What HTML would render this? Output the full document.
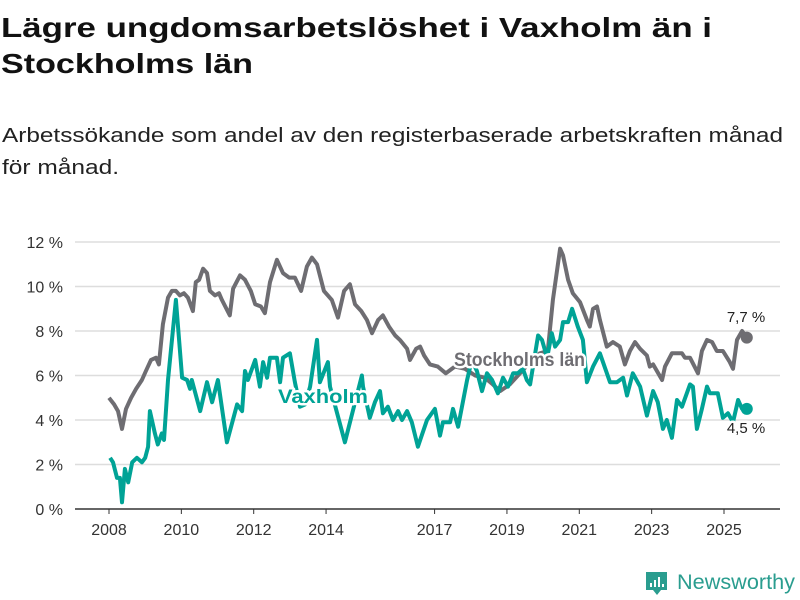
<!DOCTYPE html>
<html><head><meta charset="utf-8"><style>
html,body{margin:0;padding:0;background:#fff;}
svg{display:block;font-family:"Liberation Sans","DejaVu Sans",sans-serif;}
.lbl{paint-order:stroke;stroke:#fff;stroke-width:5px;stroke-linejoin:round;}
</style></head><body>
<svg id="chart" width="800" height="600" viewBox="0 0 800 600">
<text x="1" y="37" font-size="28" font-weight="bold" fill="#111" textLength="711" lengthAdjust="spacingAndGlyphs">Lägre ungdomsarbetslöshet i Vaxholm än i</text>
<text x="1" y="73" font-size="28" font-weight="bold" fill="#111" textLength="252" lengthAdjust="spacingAndGlyphs">Stockholms län</text>
<text x="2" y="142" font-size="20" fill="#222" textLength="781" lengthAdjust="spacingAndGlyphs">Arbetssökande som andel av den registerbaserade arbetskraften månad</text>
<text x="2" y="174" font-size="20" fill="#222" textLength="117" lengthAdjust="spacingAndGlyphs">för månad.</text>
<g id="grid"></g>
<g id="xaxis"></g>
<g id="series"></g>
<g id="labels"></g>
<g>
<path d="M646 572 h21 v18 h-6 l-4 5 l-4 -5 h-7 z" fill="#2a9d8f"/>
<rect x="650" y="583" width="2" height="4" fill="#fff"/><rect x="654" y="580" width="2" height="7" fill="#fff"/><rect x="658" y="577" width="2" height="10" fill="#fff"/><rect x="662" y="584" width="2" height="3" fill="#fff"/>
<text x="677" y="589" font-size="21" fill="#2a9d8f" textLength="118" lengthAdjust="spacingAndGlyphs">Newsworthy</text>
</g>
</svg>
<script>
const yTicks=[0,2,4,6,8,10,12];
const xTickYears=[2008,2010,2012,2014,2017,2019,2021,2023,2025];
const stockholmDates=[2008.00,2008.14,2008.25,2008.36,2008.47,2008.61,2008.75,2008.91,2009.02,2009.16,2009.30,2009.38,2009.49,2009.63,2009.74,2009.85,2009.96,2010.07,2010.18,2010.32,2010.40,2010.49,2010.60,2010.71,2010.79,2010.93,2011.04,2011.12,2011.34,2011.43,2011.62,2011.76,2011.92,2012.04,2012.20,2012.31,2012.45,2012.64,2012.81,2012.98,2013.14,2013.31,2013.47,2013.61,2013.75,2013.94,2014.16,2014.33,2014.50,2014.66,2014.80,2014.97,2015.13,2015.27,2015.44,2015.57,2015.74,2015.91,2016.04,2016.24,2016.32,2016.49,2016.60,2016.71,2016.87,2017.09,2017.31,2017.56,2017.84,2018.12,2018.39,2018.61,2018.81,2019.08,2019.36,2019.64,2019.91,2020.13,2020.27,2020.47,2020.55,2020.69,2020.82,2021.02,2021.21,2021.29,2021.38,2021.49,2021.57,2021.76,2021.93,2022.12,2022.26,2022.40,2022.54,2022.68,2022.87,2022.95,2023.04,2023.29,2023.37,2023.56,2023.84,2023.92,2024.06,2024.28,2024.39,2024.53,2024.67,2024.80,2024.97,2025.16,2025.25,2025.36,2025.50,2025.63];
const stockholmValues=[5.0,4.7,4.4,3.6,4.5,5.0,5.4,5.8,6.2,6.7,6.8,6.5,8.3,9.5,9.8,9.8,9.6,9.7,9.5,8.9,10.2,10.3,10.8,10.6,9.8,9.6,9.7,9.4,8.7,9.9,10.5,10.3,9.8,9.2,9.1,8.8,10.2,11.2,10.6,10.4,10.4,9.8,10.9,11.3,11.0,9.8,9.4,8.6,9.8,10.1,9.2,8.9,8.5,7.9,8.5,8.7,8.2,7.8,7.6,7.2,6.7,7.2,7.3,6.9,6.5,6.4,6.1,6.4,6.3,6.0,5.9,5.6,5.3,5.6,6.1,6.6,7.0,7.1,9.4,11.7,11.4,10.3,9.7,9.3,8.5,8.2,9.0,9.1,8.5,7.3,7.5,7.3,6.5,7.1,7.5,7.2,6.9,6.4,6.5,5.8,6.4,7.0,7.0,6.8,6.8,6.1,7.1,7.6,7.5,7.1,7.1,6.6,6.3,7.6,8.0,7.7];
const vaxholmDates=[2008.03,2008.11,2008.22,2008.30,2008.36,2008.44,2008.53,2008.64,2008.77,2008.91,2009.00,2009.08,2009.13,2009.27,2009.35,2009.46,2009.52,2009.63,2009.85,2010.02,2010.16,2010.24,2010.29,2010.52,2010.71,2010.85,2011.01,2011.26,2011.54,2011.68,2011.76,2011.84,2012.04,2012.17,2012.26,2012.37,2012.45,2012.64,2012.73,2012.81,2013.00,2013.14,2013.28,2013.42,2013.56,2013.75,2013.83,2014.05,2014.11,2014.52,2014.74,2014.99,2015.02,2015.21,2015.35,2015.49,2015.57,2015.71,2015.85,2015.99,2016.10,2016.24,2016.37,2016.54,2016.79,2017.01,2017.15,2017.23,2017.43,2017.51,2017.65,2017.90,2018.03,2018.17,2018.31,2018.45,2018.59,2018.75,2018.89,2019.03,2019.17,2019.30,2019.44,2019.55,2019.64,2019.86,2019.97,2020.11,2020.24,2020.33,2020.47,2020.55,2020.69,2020.80,2020.96,2021.10,2021.21,2021.38,2021.57,2021.85,2022.04,2022.21,2022.32,2022.48,2022.68,2022.87,2023.04,2023.17,2023.31,2023.42,2023.56,2023.70,2023.84,2024.06,2024.14,2024.25,2024.39,2024.53,2024.61,2024.75,2024.83,2024.97,2025.11,2025.25,2025.39,2025.50,2025.63];
const vaxholmValues=[2.3,2.1,1.4,1.4,0.3,1.8,1.2,2.1,2.3,2.1,2.3,2.8,4.4,3.4,2.9,3.4,3.1,5.8,9.4,5.9,5.8,5.4,5.8,4.4,5.7,4.8,5.8,3.0,4.7,4.4,6.2,5.8,6.7,5.5,6.6,5.9,6.8,6.8,5.7,6.8,7.0,5.7,4.6,4.7,5.5,7.6,5.7,6.6,5.5,3.0,4.4,6.0,5.5,4.1,4.8,5.3,4.3,4.6,4.0,4.4,4.0,4.4,3.9,2.8,4.0,4.5,3.3,3.9,3.9,4.5,3.7,5.8,6.7,6.2,5.3,6.1,5.8,5.2,5.9,5.5,6.1,6.1,6.3,5.8,5.6,7.8,7.6,6.8,7.9,7.3,7.6,8.4,8.4,9.0,8.2,7.6,5.7,6.4,7.0,5.7,5.7,5.9,5.1,6.1,5.5,4.2,5.3,4.8,3.6,4.0,3.2,4.9,4.6,5.6,5.5,3.6,4.5,5.5,5.2,5.2,5.2,4.1,4.3,3.9,4.9,4.5,4.5];

const NS='http://www.w3.org/2000/svg';
const X0=109,X1=724,Y0=509,Y1=242;
function xs(t){return X0+(t-2008)*(X1-X0)/17;}
function ys(v){return Y0-v*(Y0-Y1)/12;}
function mk(tag,attrs,parent){const e=document.createElementNS(NS,tag);for(const k in attrs)e.setAttribute(k,attrs[k]);parent.appendChild(e);return e;}
const grid=document.getElementById('grid');
yTicks.forEach(v=>{
  const l=mk('line',{x1:75,x2:780,y1:ys(v),y2:ys(v),stroke:v===0?'#333':'#ddd','stroke-width':1.5},grid);
  
  
  const t=mk('text',{x:63,y:ys(v)+6,'font-size':16,'text-anchor':'end',fill:'#333'},grid);
  t.textContent=v+' %';
  
  
});
const xa=document.getElementById('xaxis');
xTickYears.forEach(yr=>{
  const tk=mk('line',{x1:xs(yr),x2:xs(yr),y1:Y0,y2:Y0+5,stroke:'#333','stroke-width':1},xa);
  
  
  const t=mk('text',{x:xs(yr),y:535,'font-size':16,'text-anchor':'middle',fill:'#333'},xa);
  t.textContent=yr;
  
  
});
const sg=document.getElementById('series');
function line(d,v,color,name){
  const p=mk('polyline',{points:d.map((t,i)=>xs(t).toFixed(1)+','+ys(v[i]).toFixed(1)).join(' '),fill:'none',stroke:color,'stroke-width':4,'stroke-linejoin':'round'},sg);
  
  
  const n=d.length-1;
  const c=mk('circle',{cx:xs(d[n]),cy:ys(v[n]),r:6,fill:color},sg);
  
  
}
line(stockholmDates,stockholmValues,'#6e6d72','stockholm');
line(vaxholmDates,vaxholmValues,'#00a396','vaxholm');
const lg=document.getElementById('labels');
function lab(x,y,txt,col,size,bold,name,anchor,len){
  const a={x:x,y:y,'font-size':size,fill:col,'font-weight':bold?'bold':'normal','text-anchor':anchor||'start',class:'lbl'};
  if(len){a.textLength=len;a.lengthAdjust='spacingAndGlyphs';}
  const t=mk('text',a,lg);
  t.textContent=txt;
  
  
}
lab(454,366,'Stockholms län','#6e6d72',19,true,'stockholm-series-label','start',131);
lab(278,403,'Vaxholm','#00a396',19,true,'vaxholm-series-label','start',90);
const sn=stockholmValues.length-1,vn=vaxholmValues.length-1;
lab(746,322,stockholmValues[sn].toFixed(1).replace('.',',')+' %','#222',15,false,'stockholm-end-value','middle');
lab(746,433,vaxholmValues[vn].toFixed(1).replace('.',',')+' %','#222',15,false,'vaxholm-end-value','middle');
</script>
</body></html>
